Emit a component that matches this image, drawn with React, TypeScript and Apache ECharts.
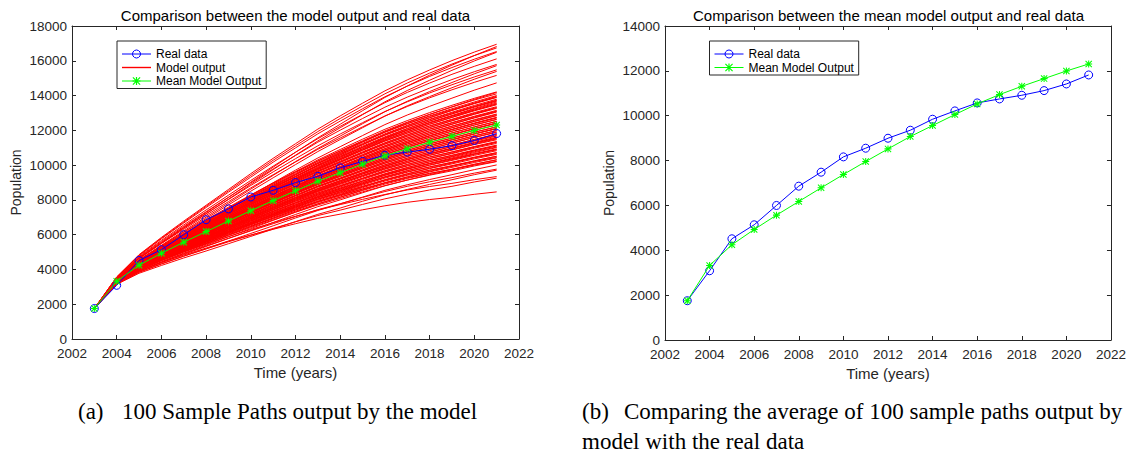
import { useEffect, useRef } from "react";
import * as echarts from "echarts";

// Observation years (x values shared by every line)
const years = [2003, 2004, 2005, 2006, 2007, 2008, 2009, 2010, 2011, 2012, 2013, 2014, 2015, 2016, 2017, 2018, 2019, 2020, 2021];

// Observed population
const realData = [1752, 3088, 4513, 5137, 5998, 6859, 7482, 8165, 8551, 8996, 9353, 9843, 10214, 10570, 10748, 10912, 11120, 11416, 11817];

// Average of the simulated paths
const meanModelOutput = [1752, 3325, 4246, 4929, 5567, 6176, 6784, 7378, 7957, 8521, 9071, 9561, 10050, 10526, 10941, 11312, 11654, 11995, 12307];

// Every simulated path starts from the observed 2003 population
const pathStart = 1752;

// 100 simulated sample paths, values for 2004..2021
const samplePaths: number[][] = [
  [3570, 4850, 5840, 6780, 7690, 8600, 9510, 10390, 11230, 12070, 12830, 13560, 14270, 14900, 15470, 16010, 16500, 16950],
  [3490, 4660, 5540, 6430, 7280, 8140, 9020, 9880, 10740, 11570, 12350, 13130, 13890, 14550, 15170, 15750, 16300, 16820],
  [3560, 4820, 5800, 6720, 7630, 8520, 9410, 10280, 11110, 11930, 12680, 13400, 14100, 14720, 15290, 15810, 16300, 16740],
  [3480, 4630, 5500, 6370, 7200, 8040, 8900, 9740, 10570, 11390, 12150, 12900, 13640, 14290, 14880, 15450, 15990, 16490],
  [3550, 4790, 5760, 6670, 7560, 8440, 9310, 10170, 10990, 11800, 12530, 13240, 13930, 14540, 15100, 15610, 16090, 16530],
  [3520, 4740, 5670, 6560, 7420, 8270, 9120, 9940, 10740, 11520, 12230, 12920, 13590, 14180, 14720, 15220, 15680, 16110],
  [3450, 4560, 5390, 6220, 7010, 7810, 8620, 9410, 10200, 10960, 11670, 12380, 13070, 13670, 14230, 14750, 15250, 15720],
  [3510, 4700, 5610, 6480, 7320, 8150, 8980, 9780, 10550, 11320, 12010, 12680, 13330, 13910, 14430, 14920, 15370, 15790],
  [3490, 4660, 5550, 6390, 7210, 8020, 8830, 9610, 10370, 11110, 11790, 12440, 13080, 13640, 14150, 14620, 15070, 15480],
  [3440, 4530, 5350, 6160, 6930, 7710, 8500, 9270, 10030, 10780, 11470, 12150, 12820, 13410, 13940, 14450, 14940, 15390],
  [3470, 4620, 5490, 6310, 7110, 7900, 8690, 9450, 10180, 10910, 11560, 12200, 12820, 13370, 13870, 14330, 14760, 15160],
  [3410, 4470, 5260, 6030, 6770, 7510, 8260, 8990, 9710, 10410, 11060, 11700, 12330, 12880, 13380, 13850, 14310, 14730],
  [3420, 4490, 5300, 6060, 6800, 7530, 8250, 8950, 9630, 10300, 10900, 11490, 12060, 12560, 13020, 13440, 13840, 14210],
  [3160, 3830, 4310, 4760, 5190, 5630, 6070, 6510, 6960, 7390, 7770, 8160, 8550, 8870, 9170, 9450, 9740, 10010],
  [3190, 3920, 4430, 4910, 5350, 5790, 6220, 6630, 7040, 7440, 7780, 8140, 8480, 8780, 9040, 9280, 9540, 9770],
  [3140, 3780, 4230, 4660, 5060, 5480, 5900, 6320, 6750, 7170, 7530, 7920, 8290, 8600, 8890, 9160, 9450, 9710],
  [3220, 3980, 4520, 5000, 5450, 5890, 6300, 6690, 7060, 7420, 7730, 8030, 8310, 8570, 8770, 8950, 9160, 9340],
  [3170, 3850, 4330, 4770, 5180, 5590, 5970, 6360, 6740, 7100, 7410, 7740, 8060, 8330, 8570, 8780, 9030, 9250],
  [3190, 3900, 4400, 4830, 5230, 5630, 5980, 6310, 6630, 6940, 7180, 7430, 7660, 7860, 8020, 8150, 8320, 8460],
  [3420, 4480, 5280, 6030, 6760, 7490, 8200, 8900, 9570, 10230, 10820, 11400, 11970, 12470, 12920, 13340, 13740, 14100],
  [3390, 4420, 5180, 5920, 6640, 7350, 8060, 8760, 9440, 10110, 10720, 11330, 11920, 12440, 12910, 13350, 13780, 14180],
  [3410, 4470, 5260, 6010, 6730, 7440, 8150, 8840, 9510, 10160, 10750, 11330, 11890, 12380, 12830, 13240, 13630, 14000],
  [3440, 4530, 5360, 6130, 6860, 7580, 8290, 8970, 9610, 10240, 10810, 11360, 11900, 12380, 12800, 13190, 13560, 13910],
  [3410, 4450, 5240, 5980, 6690, 7400, 8100, 8790, 9450, 10090, 10670, 11250, 11800, 12290, 12730, 13140, 13530, 13890],
  [3390, 4400, 5150, 5880, 6580, 7280, 7980, 8660, 9330, 9990, 10580, 11180, 11760, 12260, 12720, 13150, 13570, 13960],
  [3400, 4440, 5220, 5950, 6660, 7360, 8060, 8730, 9380, 10020, 10600, 11170, 11720, 12200, 12640, 13040, 13430, 13790],
  [3420, 4500, 5310, 6060, 6780, 7480, 8180, 8840, 9470, 10090, 10650, 11200, 11730, 12200, 12610, 13000, 13370, 13710],
  [3400, 4420, 5200, 5920, 6620, 7320, 8010, 8670, 9320, 9960, 10530, 11090, 11630, 12110, 12540, 12940, 13330, 13680],
  [3380, 4380, 5120, 5840, 6530, 7210, 7900, 8570, 9220, 9860, 10450, 11030, 11590, 12090, 12530, 12950, 13360, 13740],
  [3390, 4410, 5180, 5900, 6590, 7280, 7960, 8620, 9260, 9890, 10450, 11010, 11550, 12020, 12450, 12840, 13220, 13570],
  [3410, 4460, 5250, 5990, 6690, 7380, 8060, 8710, 9340, 9950, 10500, 11030, 11560, 12020, 12430, 12810, 13170, 13510],
  [3390, 4400, 5160, 5870, 6560, 7240, 7910, 8560, 9200, 9820, 10380, 10930, 11460, 11930, 12350, 12740, 13120, 13470],
  [3370, 4360, 5090, 5800, 6470, 7150, 7820, 8470, 9120, 9740, 10310, 10880, 11430, 11910, 12350, 12750, 13150, 13520],
  [3380, 4380, 5140, 5840, 6520, 7200, 7860, 8510, 9140, 9750, 10300, 10850, 11380, 11840, 12260, 12640, 13020, 13360],
  [3400, 4430, 5200, 5920, 6610, 7280, 7950, 8590, 9200, 9800, 10340, 10870, 11390, 11840, 12240, 12610, 12980, 13310],
  [3370, 4370, 5120, 5810, 6490, 7160, 7810, 8450, 9080, 9680, 10230, 10770, 11290, 11750, 12160, 12550, 12920, 13260],
  [3360, 4340, 5060, 5760, 6420, 7080, 7740, 8380, 9010, 9620, 10170, 10730, 11260, 11730, 12160, 12550, 12940, 13300],
  [3370, 4360, 5090, 5790, 6450, 7110, 7770, 8400, 9010, 9620, 10150, 10690, 11210, 11660, 12070, 12450, 12810, 13150],
  [3380, 4390, 5150, 5850, 6520, 7180, 7830, 8460, 9070, 9660, 10190, 10710, 11210, 11660, 12060, 12420, 12780, 13110],
  [3360, 4340, 5070, 5760, 6420, 7070, 7720, 8340, 8950, 9550, 10080, 10610, 11120, 11570, 11970, 12350, 12710, 13050],
  [3350, 4320, 5030, 5710, 6370, 7020, 7660, 8290, 8900, 9500, 10040, 10580, 11100, 11560, 11970, 12350, 12730, 13080],
  [3360, 4330, 5050, 5730, 6380, 7030, 7670, 8290, 8890, 9480, 10010, 10530, 11040, 11480, 11880, 12250, 12610, 12940],
  [3370, 4350, 5090, 5780, 6430, 7080, 7720, 8340, 8930, 9510, 10030, 10540, 11040, 11480, 11870, 12230, 12580, 12910],
  [3350, 4310, 5030, 5700, 6350, 6990, 7620, 8230, 8830, 9410, 9930, 10450, 10950, 11390, 11790, 12150, 12510, 12840],
  [3350, 4300, 5000, 5670, 6310, 6950, 7580, 8190, 8790, 9380, 9900, 10430, 10940, 11380, 11780, 12150, 12520, 12860],
  [3350, 4300, 5010, 5680, 6310, 6950, 7570, 8180, 8770, 9340, 9860, 10370, 10870, 11300, 11690, 12050, 12400, 12730],
  [3350, 4320, 5040, 5710, 6350, 6980, 7610, 8210, 8790, 9360, 9870, 10380, 10870, 11300, 11680, 12040, 12390, 12710],
  [3340, 4290, 4990, 5650, 6280, 6910, 7520, 8120, 8710, 9280, 9780, 10290, 10780, 11210, 11600, 11950, 12300, 12620],
  [3340, 4280, 4970, 5630, 6260, 6880, 7500, 8100, 8680, 9250, 9770, 10280, 10770, 11210, 11590, 11950, 12310, 12640],
  [3340, 4270, 4970, 5620, 6250, 6870, 7470, 8070, 8640, 9210, 9710, 10210, 10700, 11120, 11500, 11850, 12200, 12520],
  [3340, 4280, 4980, 5640, 6260, 6880, 7490, 8080, 8660, 9220, 9720, 10210, 10700, 11120, 11500, 11850, 12190, 12510],
  [3330, 4260, 4950, 5590, 6210, 6830, 7430, 8010, 8580, 9140, 9640, 10130, 10610, 11030, 11410, 11750, 12100, 12410],
  [3330, 4260, 4940, 5590, 6200, 6820, 7420, 8000, 8580, 9130, 9630, 10130, 10610, 11030, 11410, 11750, 12100, 12420],
  [3330, 4250, 4930, 5570, 6180, 6780, 7380, 7960, 8520, 9070, 9560, 10050, 10530, 10940, 11310, 11650, 12000, 12310],
  [3330, 4260, 4960, 5600, 6220, 6830, 7440, 8020, 8590, 9140, 9640, 10130, 10610, 11030, 11410, 11750, 12090, 12410],
  [3320, 4230, 4910, 5540, 6140, 6740, 7330, 7900, 8460, 9000, 9490, 9970, 10440, 10850, 11220, 11560, 11890, 12200],
  [3320, 4240, 4910, 5550, 6150, 6750, 7340, 7910, 8470, 9010, 9490, 9980, 10440, 10850, 11220, 11550, 11890, 12200],
  [3310, 4220, 4890, 5510, 6110, 6700, 7280, 7850, 8400, 8930, 9410, 9890, 10360, 10760, 11120, 11460, 11790, 12100],
  [3310, 4210, 4880, 5500, 6090, 6680, 7260, 7830, 8390, 8930, 9410, 9890, 10350, 10760, 11130, 11460, 11800, 12110],
  [3310, 4200, 4870, 5480, 6070, 6660, 7230, 7790, 8340, 8870, 9340, 9810, 10270, 10670, 11030, 11360, 11690, 11990],
  [3310, 4220, 4880, 5500, 6100, 6690, 7260, 7820, 8360, 8890, 9360, 9830, 10280, 10680, 11030, 11350, 11680, 11980],
  [3300, 4190, 4850, 5460, 6040, 6620, 7180, 7740, 8270, 8800, 9260, 9730, 10190, 10580, 10930, 11260, 11590, 11880],
  [3300, 4170, 4820, 5430, 6000, 6580, 7150, 7710, 8250, 8780, 9250, 9720, 10180, 10580, 10940, 11270, 11600, 11910],
  [3300, 4180, 4830, 5430, 6000, 6580, 7140, 7680, 8210, 8730, 9190, 9650, 10100, 10490, 10840, 11160, 11480, 11780],
  [3310, 4200, 4850, 5460, 6040, 6620, 7180, 7720, 8250, 8770, 9220, 9680, 10120, 10500, 10840, 11150, 11470, 11760],
  [3290, 4160, 4800, 5400, 5970, 6540, 7090, 7630, 8150, 8660, 9120, 9570, 10020, 10400, 10740, 11060, 11380, 11670],
  [3280, 4140, 4770, 5360, 5920, 6480, 7040, 7580, 8110, 8630, 9090, 9560, 10010, 10400, 10750, 11080, 11410, 11710],
  [3290, 4150, 4780, 5370, 5930, 6490, 7040, 7570, 8090, 8590, 9040, 9490, 9930, 10310, 10650, 10960, 11280, 11570],
  [3300, 4180, 4820, 5420, 5990, 6550, 7100, 7630, 8140, 8640, 9090, 9530, 9950, 10330, 10650, 10950, 11260, 11540],
  [3280, 4140, 4760, 5350, 5900, 6450, 6990, 7520, 8030, 8530, 8970, 9410, 9850, 10220, 10560, 10860, 11180, 11460],
  [3270, 4100, 4710, 5290, 5830, 6380, 6920, 7450, 7980, 8490, 8940, 9390, 9840, 10220, 10570, 10890, 11210, 11510],
  [3280, 4120, 4740, 5320, 5870, 6410, 6940, 7460, 7970, 8460, 8890, 9330, 9760, 10130, 10460, 10760, 11070, 11360],
  [3290, 4160, 4790, 5380, 5930, 6490, 7020, 7530, 8040, 8520, 8950, 9380, 9790, 10150, 10470, 10750, 11050, 11320],
  [3270, 4110, 4720, 5290, 5830, 6370, 6890, 7410, 7910, 8390, 8820, 9250, 9680, 10040, 10370, 10660, 10970, 11250],
  [3260, 4070, 4660, 5220, 5750, 6280, 6810, 7330, 7840, 8340, 8780, 9230, 9670, 10040, 10380, 10690, 11020, 11310],
  [3260, 4100, 4700, 5260, 5800, 6330, 6850, 7350, 7840, 8320, 8740, 9170, 9590, 9950, 10270, 10570, 10870, 11150],
  [3280, 4140, 4760, 5340, 5880, 6420, 6940, 7440, 7930, 8400, 8810, 9230, 9620, 9970, 10280, 10550, 10840, 11100],
  [3260, 4080, 4680, 5240, 5760, 6290, 6800, 7290, 7780, 8250, 8670, 9090, 9500, 9860, 10180, 10470, 10770, 11040],
  [3240, 4030, 4610, 5150, 5660, 6180, 6690, 7200, 7710, 8200, 8630, 9070, 9490, 9860, 10200, 10500, 10820, 11110],
  [3250, 4070, 4660, 5210, 5730, 6250, 6750, 7240, 7720, 8190, 8600, 9010, 9420, 9770, 10080, 10370, 10660, 10930],
  [3270, 4120, 4730, 5290, 5830, 6360, 6860, 7350, 7820, 8280, 8680, 9080, 9460, 9800, 10090, 10350, 10630, 10880],
  [3250, 4050, 4640, 5180, 5690, 6210, 6700, 7180, 7660, 8120, 8520, 8930, 9330, 9680, 9990, 10270, 10560, 10830],
  [3230, 3990, 4550, 5080, 5570, 6080, 6580, 7080, 7570, 8050, 8470, 8900, 9320, 9680, 10010, 10310, 10620, 10910],
  [3240, 4040, 4620, 5150, 5660, 6160, 6650, 7130, 7600, 8050, 8450, 8850, 9250, 9590, 9890, 10170, 10460, 10720],
  [3270, 4100, 4700, 5250, 5770, 6290, 6780, 7250, 7710, 8160, 8540, 8930, 9300, 9620, 9900, 10150, 10420, 10660],
  [3240, 4030, 4600, 5130, 5620, 6120, 6600, 7070, 7540, 7980, 8370, 8770, 9160, 9500, 9800, 10070, 10360, 10620],
  [3210, 3960, 4500, 5010, 5490, 5980, 6470, 6950, 7430, 7900, 8310, 8740, 9150, 9500, 9820, 10120, 10430, 10710],
  [3230, 4010, 4580, 5100, 5590, 6080, 6560, 7020, 7470, 7910, 8300, 8700, 9080, 9410, 9700, 9970, 10250, 10510],
  [3260, 4080, 4670, 5210, 5720, 6220, 6700, 7160, 7600, 8030, 8410, 8780, 9130, 9450, 9710, 9950, 10210, 10440],
  [3230, 4000, 4560, 5070, 5560, 6040, 6510, 6960, 7410, 7850, 8230, 8620, 8990, 9320, 9610, 9870, 10150, 10410],
  [3200, 3920, 4440, 4940, 5400, 5880, 6350, 6820, 7300, 7760, 8160, 8570, 8980, 9320, 9640, 9930, 10230, 10510],
  [3220, 3990, 4540, 5040, 5520, 6000, 6460, 6910, 7350, 7780, 8150, 8540, 8910, 9230, 9510, 9770, 10050, 10300],
  [3250, 4060, 4640, 5170, 5660, 6160, 6620, 7060, 7500, 7910, 8270, 8630, 8970, 9270, 9530, 9750, 10000, 10220],
  [3220, 3970, 4520, 5020, 5490, 5960, 6410, 6850, 7290, 7710, 8080, 8460, 8820, 9140, 9420, 9670, 9950, 10200],
  [3190, 3890, 4390, 4870, 5320, 5780, 6240, 6700, 7160, 7610, 8000, 8410, 8810, 9140, 9450, 9730, 10040, 10310],
  [3370, 4370, 5110, 5820, 6500, 7180, 7860, 8520, 9170, 9800, 10380, 10950, 11510, 12000, 12440, 12850, 13260, 13630],
  [3340, 4290, 4990, 5650, 6280, 6920, 7540, 8150, 8740, 9320, 9830, 10350, 10850, 11290, 11690, 12050, 12420, 12750],
  [3320, 4230, 4900, 5530, 6120, 6720, 7300, 7860, 8410, 8950, 9430, 9900, 10360, 10770, 11120, 11450, 11790, 12090],
  [3280, 4120, 4740, 5320, 5880, 6430, 6980, 7520, 8050, 8560, 9020, 9480, 9920, 10310, 10660, 10980, 11310, 11610],
  [3230, 4010, 4580, 5110, 5620, 6130, 6640, 7140, 7640, 8120, 8550, 8980, 9410, 9770, 10100, 10410, 10720, 11010],
];

// Axis ranges and ticks
const xMin = 2002;
const xMax = 2022;
const xStep = 2;
const yStep = 2000;
const leftYMax = 18000;
const rightYMax = 14000;

// Texts
const leftTitle = "Comparison between the model output and real data";
const rightTitle = "Comparison between the mean model output and real data";
const xName = "Time (years)";
const yName = "Population";
const realName = "Real data";
const modelName = "Model output";
const meanName = "Mean Model Output";

const SANS = '"Liberation Sans", Arial, Helvetica, sans-serif';
const SERIF = '"Liberation Serif", "Times New Roman", Times, serif';
const AXIS = "#262626";
const RED = "#ff0000";
const BLUE = "#0000ff";
const GREEN = "#00ff00";
const CLEAR = "rgba(0,0,0,0)";

// asterisk marker: vertical, horizontal and two diagonal bars
const STAR =
  "path://M8.5 0L11.5 0L11.5 20L8.5 20Z M0 8.5L20 8.5L20 11.5L0 11.5Z M2.1 0L20 17.9L17.9 20L0 2.1Z M17.9 0L20 2.1L2.1 20L0 17.9Z";

// thin bar used as the plain-line legend key
const LINE_KEY = "path://M0 0L29 0L29 1.4L0 1.4Z";

// plot rectangles
const leftGrid = { left: 72, top: 26, width: 447, height: 313 };
const rightGrid = { left: 665, top: 26, width: 447, height: 314 };

const toPoints = (values: number[]) => years.map((y, i) => [y, values[i]]);

function xAxes(gridIndex: number) {
  const common = {
    type: "value",
    gridIndex,
    min: xMin,
    max: xMax,
    interval: xStep,
    splitLine: { show: false },
    axisLine: { show: true, onZero: false, lineStyle: { color: AXIS, width: 1 } },
    axisTick: { show: true, inside: true, length: 4, lineStyle: { color: AXIS, width: 1 } },
  };
  return [
    {
      ...common,
      position: "bottom",
      name: xName,
      nameLocation: "middle",
      nameGap: 24,
      nameTextStyle: { fontFamily: SANS, fontSize: 15, color: AXIS },
      axisLabel: { fontFamily: SANS, fontSize: 13.5, color: AXIS, margin: 7, formatter: (v: number) => String(v) },
    },
    { ...common, position: "top", axisLabel: { show: false } },
  ];
}

function yAxes(gridIndex: number, max: number) {
  const common = {
    type: "value",
    gridIndex,
    min: 0,
    max,
    interval: yStep,
    splitLine: { show: false },
    axisLine: { show: true, onZero: false, lineStyle: { color: AXIS, width: 1 } },
    axisTick: { show: true, inside: true, length: 4, lineStyle: { color: AXIS, width: 1 } },
  };
  return [
    {
      ...common,
      position: "left",
      name: yName,
      nameLocation: "middle",
      nameGap: 49,
      nameTextStyle: { fontFamily: SANS, fontSize: 14, color: AXIS },
      axisLabel: { fontFamily: SANS, fontSize: 13.5, color: AXIS, margin: 5, formatter: (v: number) => String(v) },
    },
    { ...common, position: "right", axisLabel: { show: false } },
  ];
}

function realSeries(xi: number, yi: number) {
  return {
    type: "line",
    name: realName,
    xAxisIndex: xi,
    yAxisIndex: yi,
    data: toPoints(realData),
    symbol: "circle",
    symbolSize: 8,
    lineStyle: { color: BLUE, width: 1 },
    itemStyle: { color: CLEAR, borderColor: BLUE, borderWidth: 1 },
    silent: true,
    z: 3,
  };
}

function meanSeries(xi: number, yi: number) {
  return {
    type: "line",
    name: meanName,
    xAxisIndex: xi,
    yAxisIndex: yi,
    data: toPoints(meanModelOutput),
    symbol: STAR,
    symbolSize: 7,
    lineStyle: { color: GREEN, width: 1 },
    itemStyle: { color: GREEN },
    silent: true,
    z: 4,
  };
}

const legendItems: Record<string, object> = {
  [realName]: {
    name: realName,
    itemStyle: { color: CLEAR, borderColor: BLUE, borderWidth: 1, opacity: 1 },
    lineStyle: { color: BLUE, width: 1 },
  },
  [modelName]: {
    name: modelName,
    icon: LINE_KEY,
    itemStyle: { color: RED, borderColor: RED, borderWidth: 0, opacity: 1 },
  },
  [meanName]: {
    name: meanName,
    itemStyle: { color: GREEN, borderWidth: 0, opacity: 1 },
    lineStyle: { color: GREEN, width: 1 },
  },
};

function legend(left: number, top: number, names: string[]) {
  return {
    data: names.map((n) => legendItems[n]),
    orient: "vertical",
    left,
    top,
    padding: [7, 4.8, 1.5, 4.5],
    itemGap: 1.5,
    itemWidth: 29,
    itemHeight: 10,
    symbolKeepAspect: true,
    borderColor: AXIS,
    borderWidth: 1,
    backgroundColor: "#ffffff",
    selectedMode: false,
    textStyle: { fontFamily: SANS, fontSize: 12, color: "#000" },
  };
}

function caption(x: number, y: number, text: string) {
  return {
    type: "text",
    x,
    y,
    silent: true,
    style: {
      text,
      fontFamily: SERIF,
      fontSize: 23,
      fill: "#000",
      verticalAlign: "middle",
      textVerticalAlign: "middle",
    },
  };
}

export default function App() {
  const ref = useRef<HTMLDivElement>(null);

  useEffect(() => {
    if (!ref.current) return;
    const chart = echarts.init(ref.current, null, { renderer: "svg" });

    const modelSeries = samplePaths.map((path) => ({
      type: "line",
      name: modelName,
      xAxisIndex: 0,
      yAxisIndex: 0,
      data: toPoints([pathStart, ...path]),
      symbol: "none",
      lineStyle: { color: RED, width: 1 },
      itemStyle: { color: RED },
      silent: true,
      z: 2,
    }));

    const titleStyle = { fontFamily: SANS, fontSize: 15, fontWeight: "normal", color: "#000" };

    chart.setOption({
      animation: false,
      backgroundColor: "#ffffff",
      title: [
        { text: leftTitle, left: leftGrid.left + leftGrid.width / 2, textAlign: "center", top: 8, padding: 0, textStyle: titleStyle },
        { text: rightTitle, left: rightGrid.left + rightGrid.width / 2, textAlign: "center", top: 8, padding: 0, textStyle: titleStyle },
      ],
      legend: [
        legend(117, 41, [realName, modelName, meanName]),
        legend(709.5, 41, [realName, meanName]),
      ],
      grid: [leftGrid, rightGrid],
      xAxis: [...xAxes(0), ...xAxes(1)],
      yAxis: [...yAxes(0, leftYMax), ...yAxes(1, rightYMax)],
      series: [
        ...modelSeries,
        realSeries(0, 0),
        meanSeries(0, 0),
        realSeries(2, 2),
        meanSeries(2, 2),
      ],
      graphic: [
        caption(78, 411, "(a)"),
        caption(122, 411, "100 Sample Paths output by the model"),
        caption(582, 411, "(b)"),
        caption(624, 411, "Comparing the average of 100 sample paths output by"),
        caption(582, 441, "model with the real data"),
      ],
    });

    return () => chart.dispose();
  }, []);

  return (
    <div
      ref={ref}
      style={{ position: "absolute", left: 0, top: 0, width: 1129, height: 454, background: "#fff" }}
    />
  );
}
